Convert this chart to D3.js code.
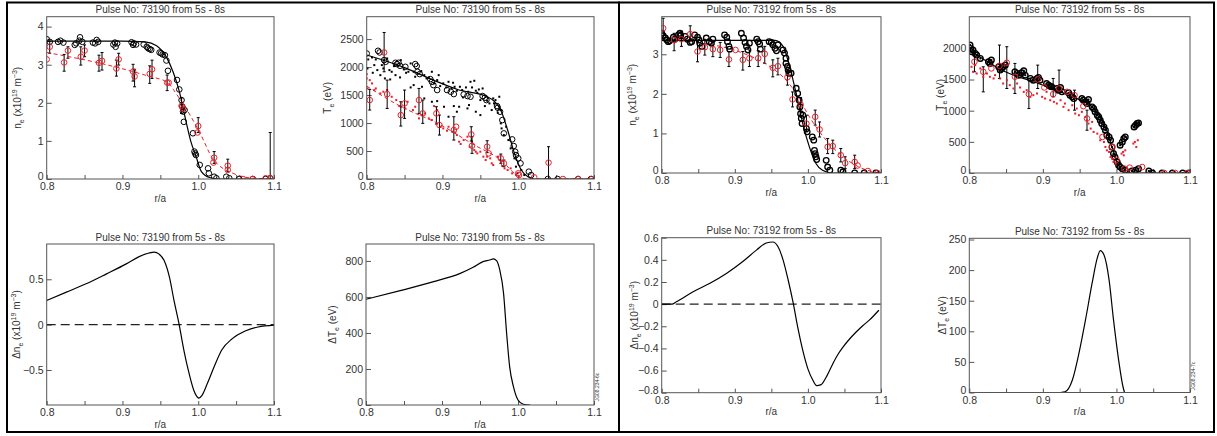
<!DOCTYPE html>
<html>
<head>
<meta charset="utf-8">
<script src="https://cdn.jsdelivr.net/npm/d3@7"></script>
<style>
  body { margin: 0; background: #fff; }
  svg text { font-family: "Liberation Sans", Arial, sans-serif; fill: #333; }
</style>
</head>
<body>
<div class="chart"></div>
<script>
// r/a axis is the same for every panel
const rTicks = [0.8, 0.9, 1.0, 1.1];
const rMinor = [0.85, 0.95, 1.05];

// ---- Pulse 73190, density ----
const ne90Black = [[0.800,3.67],[0.804,3.60],[0.815,3.60],[0.818,3.63],[0.822,3.58],[0.837,3.52],[0.839,3.56],[0.843,3.63],
  [0.844,3.72],[0.847,3.60],[0.861,3.58],[0.864,3.56],[0.866,3.65],[0.868,3.60],[0.888,3.53],[0.890,3.58],[0.891,3.47],
  [0.893,3.56],[0.912,3.59],[0.914,3.52],[0.915,3.56],[0.918,3.53],[0.928,3.53],[0.932,3.47],[0.934,3.43],[0.936,3.41],
  [0.938,3.39],[0.949,3.32],[0.951,3.30],[0.953,3.27],[0.956,3.25],[0.958,3.11],[0.960,2.84],[0.972,2.60],[0.975,2.35],
  [0.978,2.07],[0.979,1.90],[0.980,1.77],[0.981,1.50],[0.982,1.81],[0.993,1.20],[0.995,0.72],[0.996,0.67],[0.997,0.63],
  [1.002,0.37],[1.013,0.28],[1.014,0.15],[1.021,0.06],[1.024,0.02],[1.037,0.06],[1.041,0.02],[1.054,0],[1.072,0],
  [1.089,0],[1.095,0.02]];
const ne90Fit = [[0.8,3.62],[0.85,3.62],[0.9,3.62],[0.93,3.60],[0.945,3.50],[0.958,3.20],[0.967,2.80],[0.975,2.30],
  [0.984,1.50],[0.990,1.00],[0.997,0.60],[1.004,0.20],[1.015,0.04],[1.03,0],[1.1,0]];
// [r, value, low, high]
const ne90Red = [[0.800,3.14,3.14,3.14],[0.804,3.47,3.30,3.62],[0.823,3.06,2.83,3.27],[0.828,3.37,3.17,3.47],
  [0.845,3.21,2.99,3.47],[0.850,3.37,3.21,3.52],[0.869,3.05,2.83,3.25],[0.873,3.10,2.86,3.32],[0.892,2.90,2.70,3.12],
  [0.895,3.14,2.99,3.30],[0.914,2.82,2.57,3.01],[0.916,2.69,2.42,2.88],[0.936,2.76,2.51,2.97],[0.939,2.88,2.64,3.12],
  [0.959,2.53,2.32,2.73],[0.961,2.53,2.53,2.53],[0.978,1.92,1.72,2.13],[0.980,1.85,1.85,1.85],[1.000,1.39,1.22,1.61],
  [0.999,1.22,1.22,1.22],[1.021,0.56,0.41,0.72],[1.020,0.43,0.43,0.43],[1.039,0.35,0.19,0.52],[1.039,0.24,0.24,0.24],
  [1.059,0,0,0],[1.072,0,0,0],[1.089,0.02,0.02,0.02],[1.095,0.02,0,1.22]];
const ne90RedFit = [[0.8,3.32],[0.87,3.04],[0.936,2.69],[0.958,2.55],[0.975,2.12],[1.002,1.22],[1.019,0.54],
  [1.046,0.15],[1.068,0.03],[1.1,0]];
const ne90Ticks = [0, 1, 2, 3, 4];

// ---- Pulse 73190, temperature ----
const te90Black = [[0.800,2243],[0.815,2291],[0.817,2261],[0.823,2124],[0.825,2094],[0.838,2077],[0.840,2053],
  [0.842,2077],[0.844,2023],[0.851,2005],[0.864,2053],[0.866,2017],[0.867,1916],[0.870,1874],[0.884,1785],[0.886,1737],
  [0.888,1678],[0.893,1589],[0.906,1589],[0.911,1559],[0.915,1517],[0.928,1511],[0.933,1482],[0.937,1470],[0.953,1482],
  [0.956,1452],[0.958,1410],[0.972,1303],[0.973,1273],[0.976,1202],[0.979,1053],[0.981,815],[0.992,708],[0.994,589],
  [0.996,488],[0.997,428],[1.000,369],[1.003,280],[1.014,131],[1.017,71],[1.039,0],[1.052,0],[1.079,0],[1.096,0]];
const te90Fit = [[0.8,2215],[0.85,1990],[0.888,1767],[0.92,1600],[0.959,1470],[0.969,1380],[0.977,1230],[0.986,875],
  [0.995,458],[1.004,160],[1.013,40],[1.021,0],[1.1,0]];
const te90Dots = [[0.802,2136],[0.807,2172],[0.810,2035],[0.814,1946],[0.820,2035],[0.822,1975],[0.827,2154],
  [0.830,1946],[0.833,1916],[0.836,2017],[0.845,2124],[0.849,1958],[0.852,1898],[0.855,1916],[0.858,2065],[0.862,1916],
  [0.864,1827],[0.872,1928],[0.876,1856],[0.879,1797],[0.882,1815],[0.886,1916],[0.889,1708],[0.893,1767],[0.895,1856],
  [0.897,1660],[0.901,1708],[0.905,1636],[0.908,1737],[0.912,1618],[0.914,1720],[0.916,1648],[0.919,1577],[0.923,1648],
  [0.926,1589],[0.927,1458],[0.931,1636],[0.934,1559],[0.937,1737],[0.939,1636],[0.942,1755],[0.944,1577],[0.946,1541],
  [0.948,1600],[0.950,1410],[0.953,1618],[0.956,1303],[0.959,1398],[0.962,1351],[0.965,1232],[0.967,1440],[0.968,1351],
  [0.970,1410],[0.973,1184],[0.975,1470],[0.977,1232],[0.950,1142],[0.944,1202],[0.935,1321],[0.933,1261],[0.922,1291],
  [0.919,1202],[0.915,1303],[0.908,1113],[0.902,1291],[0.893,1392],[0.886,1380],[0.876,1440],[0.873,1648],[0.862,1678],
  [0.858,1636],[0.844,1815],[0.838,1856],[0.831,1779],[0.824,1797],[0.818,1856],[0.812,2136],[0.808,1898],[0.801,1975],
  [0.977,994],[0.978,904],[0.981,785],[0.984,934],[0.987,696],[0.990,547],[0.995,369],[0.997,220],[0.999,101],
  [1.004,161],[1.008,71]];
const te90Red = [[0.804,1410,1232,1601],[0.823,2261,1916,2618],[0.827,1517,1261,1767],[0.845,1142,946,1380],
  [0.850,1351,1083,1589],[0.869,1410,1172,1618],[0.874,1172,994,1410],[0.892,1172,982,1291],[0.896,964,785,1142],
  [0.915,875,696,1113],[0.918,934,934,934],[0.938,797,678,934],[0.939,595,458,756],[0.959,577,470,684],[0.961,458,458,458],
  [0.977,369,280,446],[0.981,280,220,339],[1.000,101,101,101],[1.001,71,71,71],[1.021,30,30,30],[1.040,292,0,577],
  [1.059,0,0,0],[1.079,0,0,0],[1.097,0,0,0]];
const te90RedDots = [[0.800,1874],[0.800,1797],[0.801,1618],[0.804,1767],[0.807,1708],[0.810,1589],[0.812,1618],
  [0.818,1529],[0.822,1559],[0.827,1589],[0.833,1470],[0.839,1410],[0.843,1303],[0.846,1291],[0.851,1261],[0.854,1380],
  [0.861,1232],[0.864,1291],[0.869,1083],[0.873,1142],[0.877,1172],[0.882,1083],[0.886,1053],[0.889,1303],[0.893,1232],
  [0.897,934],[0.901,904],[0.906,863],[0.908,934],[0.913,845],[0.917,827],[0.919,785],[0.922,666],[0.924,625],[0.928,696],
  [0.933,756],[0.936,577],[0.939,666],[0.942,518],[0.944,488],[0.946,458],[0.950,488],[0.954,399],[0.957,339],[0.959,399],
  [0.963,369],[0.965,280],[0.967,250],[0.973,399],[0.976,339],[0.979,232],[0.982,190],[0.986,161],[0.990,190],
  [0.992,101],[0.997,71]];
const te90RedFit = [[0.8,1660],[0.844,1303],[0.898,964],[0.942,607],[0.977,339],[0.999,60],[1.012,0],[1.1,0]];
const te90Ticks = [0, 500, 1000, 1500, 2000, 2500];

// ---- Pulse 73192, density ----
const ne92Black = [[0.800,3.53],[0.802,3.47],[0.805,3.41],[0.807,3.36],[0.809,3.32],[0.811,3.34],[0.816,3.43],
  [0.818,3.38],[0.823,3.49],[0.825,3.53],[0.826,3.47],[0.832,3.45],[0.835,3.38],[0.839,3.30],[0.841,3.32],[0.845,3.49],
  [0.849,3.43],[0.851,3.36],[0.852,3.28],[0.855,3.20],[0.861,3.41],[0.865,3.32],[0.868,3.28],[0.870,3.38],[0.886,3.49],
  [0.889,3.43],[0.890,3.32],[0.892,3.20],[0.893,3.13],[0.909,3.53],[0.912,3.41],[0.914,3.30],[0.916,3.20],[0.918,3.11],
  [0.920,3.28],[0.930,3.38],[0.932,3.32],[0.934,3.26],[0.935,3.13],[0.947,3.32],[0.950,3.30],[0.952,3.24],[0.955,3.15],
  [0.957,3.09],[0.959,3.24],[0.966,3.11],[0.968,3.03],[0.970,2.90],[0.970,2.77],[0.972,2.69],[0.973,2.60],[0.974,2.52],
  [0.977,2.52],[0.984,2.14],[0.986,2.01],[0.988,1.84],[0.989,1.67],[0.990,1.50],[0.991,1.38],[0.992,1.25],[0.993,1.46],
  [0.998,1.12],[0.999,1.04],[1.006,0.91],[1.008,0.83],[1.009,0.57],[1.010,0.49],[1.011,0.41],[1.012,0.34],[1.025,0.32],
  [1.027,0.15],[1.030,0.07],[1.045,0.07],[1.048,0.03],[1.064,0],[1.077,0],[1.093,0]];
const ne92Fit = [[0.8,3.35],[0.9,3.35],[0.955,3.35],[0.966,3.20],[0.975,2.69],[0.984,2.01],[0.993,1.25],[1.002,0.66],
  [1.011,0.24],[1.020,0.07],[1.034,0],[1.1,0]];
const ne92Red = [[0.802,3.66,3.41,3.91],[0.817,3.36,3.09,3.53],[0.827,3.38,3.20,3.58],[0.839,3.51,3.32,3.72],
  [0.849,3.07,2.81,3.32],[0.859,3.18,2.98,3.38],[0.870,3.13,2.94,3.32],[0.880,3.11,2.92,3.30],[0.892,2.87,2.69,3.07],
  [0.901,3.11,3.11,3.11],[0.911,2.86,2.60,3.07],[0.920,2.90,2.69,3.11],[0.932,2.90,2.69,3.09],[0.941,3.01,2.77,3.20],
  [0.952,2.66,2.43,2.86],[0.959,2.70,2.48,2.90],[0.972,2.42,2.22,2.60],[0.979,1.86,1.67,2.05],[0.990,1.73,1.55,1.91],
  [0.998,1.25,1.04,1.46],[1.010,1.42,1.21,1.59],[1.016,1.10,0.91,1.29],[1.027,0.66,0.49,0.87],[1.034,0.68,0.49,0.83],
  [1.045,0.45,0.28,0.62],[1.051,0.25,0.11,0.41],[1.064,0.28,0.11,0.45],[1.068,0.19,0.19,0.19],[1.082,0.05,0.05,0.05],
  [1.095,0,0,0]];
const ne92RedFit = [[0.8,3.43],[0.843,3.32],[0.911,3.03],[0.948,2.69],[0.970,2.35],[0.984,2.01],[1.002,1.42],
  [1.025,0.83],[1.048,0.41],[1.070,0.15],[1.098,0]];
const ne92Ticks = [0, 1, 2, 3];

// ---- Pulse 73192, temperature ----
const te92Black = [[0.801,2053],[0.802,1999],[0.803,1946],[0.805,1972],[0.808,1919],[0.810,1892],[0.815,1838],
  [0.826,1785],[0.828,1758],[0.830,1812],[0.840,1704],[0.842,1651],[0.844,1678],[0.846,1704],[0.849,1731],[0.862,1624],
  [0.865,1597],[0.867,1570],[0.871,1608],[0.874,1640],[0.876,1570],[0.883,1517],[0.887,1490],[0.892,1517],[0.894,1533],
  [0.896,1490],[0.905,1436],[0.908,1410],[0.910,1394],[0.912,1383],[0.919,1356],[0.921,1329],[0.924,1372],[0.926,1302],
  [0.935,1286],[0.937,1249],[0.940,1222],[0.942,1195],[0.953,1195],[0.955,1168],[0.958,1142],[0.960,1115],[0.962,1179],
  [0.967,1061],[0.969,1034],[0.971,981],[0.974,927],[0.976,900],[0.978,847],[0.980,793],[0.983,740],[0.985,686],
  [0.987,606],[0.990,579],[0.992,525],[0.994,418],[0.996,311],[0.998,257],[1.001,177],[1.003,123],[1.005,96],[1.008,70],
  [1.012,43],[1.021,32],[1.026,43],[1.030,70],[1.044,32],[1.049,0],[1.062,0],[1.076,0],[1.090,0],[1.099,0],
  [1.005,445],[1.008,498],[1.010,552],[1.012,579],[1.024,740],[1.026,766],[1.028,793],[1.030,804]];
const te92Fit = [[0.8,1973],[0.849,1624],[0.894,1437],[0.94,1222],[0.967,1061],[0.985,740],[0.994,418],[1.003,123],
  [1.012,16],[1.021,0],[1.1,0]];
const te92Red = [[0.807,1785,1624,1919],[0.819,1624,1302,1704],[0.830,1678,1678,1678],[0.841,1720,1517,2053],
  [0.851,1769,1356,2026],[0.862,1544,1276,1758],[0.881,1265,1034,1517],[0.893,1501,1356,1731],[0.902,1372,1372,1372],
  [0.914,1265,1222,1517],[0.922,1356,1302,1651],[0.933,1302,1302,1302],[0.943,1249,1008,1329],[0.955,1072,1072,1072],
  [0.960,874,686,1008],[0.981,579,579,579],[0.994,418,418,418],[1.000,214,214,214],[1.011,70,70,70],[1.018,86,86,86],
  [1.035,96,96,96],[1.065,0,0,0],[1.080,0,0,0],[1.096,0,0,0]];
const te92RedDots = [[0.803,1704],[0.805,1624],[0.808,1731],[0.810,1597],[0.815,1678],[0.819,1544],[0.824,1597],
  [0.828,1544],[0.833,1517],[0.835,1570],[0.842,1517],[0.846,1436],[0.851,1490],[0.855,1410],[0.860,1356],[0.865,1436],
  [0.869,1372],[0.874,1302],[0.878,1329],[0.883,1222],[0.887,1249],[0.892,1276],[0.899,1222],[0.903,1195],[0.905,1302],
  [0.910,1168],[0.915,1142],[0.919,1115],[0.924,1168],[0.928,1061],[0.930,1115],[0.935,1008],[0.940,1088],[0.944,954],
  [0.946,1034],[0.949,927],[0.953,981],[0.958,900],[0.960,847],[0.962,793],[0.965,713],[0.967,820],[0.969,659],
  [0.974,632],[0.978,525],[0.983,498],[0.985,418],[0.987,364],[0.990,338],[0.992,257],[0.994,230],[0.996,177],
  [0.999,150],[1.007,311],[1.009,338],[1.010,284],[1.012,364],[1.023,472],[1.025,498],[1.027,418],[1.029,525]];
const te92Ticks = [0, 500, 1000, 1500, 2000];

// ---- differences ----
const dne90 = [[0.8,0.267],[0.826,0.359],[0.852,0.45],[0.879,0.56],[0.905,0.67],[0.922,0.75],[0.935,0.79],
  [0.942,0.80],[0.948,0.78],[0.955,0.707],[0.962,0.524],[0.968,0.267],[0.975,-0.007],[0.981,-0.28],[0.988,-0.54],
  [0.994,-0.72],[0.999,-0.80],[1.001,-0.81],[1.005,-0.78],[1.012,-0.65],[1.021,-0.465],[1.031,-0.28],[1.045,-0.154],
  [1.062,-0.07],[1.079,-0.026],[1.1,-0.005]];
const dne90Ticks = [-0.5, 0, 0.5];
const dte90 = [[0.8,587],[0.845,635],[0.889,685],[0.924,731],[0.941,765],[0.954,796],[0.963,805],[0.9675,811],
  [0.972,800],[0.976,750],[0.981,620],[0.985,400],[0.989,213],[0.994,102],[1.0,28],[1.007,4],[1.016,0]];
const dte90Ticks = [0, 200, 400, 600, 800];
const dne92 = [[0.8,0],[0.814,0],[0.82,0.021],[0.843,0.112],[0.866,0.188],[0.889,0.279],[0.911,0.385],[0.93,0.49],
  [0.943,0.552],[0.952,0.561],[0.959,0.52],[0.966,0.4],[0.973,0.218],[0.98,0.006],[0.986,-0.206],[0.993,-0.418],
  [1.0,-0.585],[1.007,-0.69],[1.012,-0.736],[1.018,-0.727],[1.025,-0.66],[1.034,-0.54],[1.041,-0.455],[1.048,-0.388],
  [1.057,-0.315],[1.066,-0.252],[1.075,-0.195],[1.084,-0.145],[1.097,-0.055]];
const dne92Ticks = [-0.8, -0.6, -0.4, -0.2, 0, 0.2, 0.4, 0.6];
const dte92 = [[0.924,0],[0.93,1],[0.94,20],[0.949,64],[0.958,119],[0.967,179],[0.974,220],[0.978,232],[0.983,225],
  [0.99,184],[0.996,119],[1.003,53],[1.009,9],[1.011,0]];
const dte92Ticks = [0, 50, 100, 150, 200, 250];

const RED = "#e8202a";
const width = 1217, height = 436;

const svg = d3.select("div.chart").append("svg")
  .attr("width", width)
  .attr("height", height);

// outer frames of the two halves
svg.append("rect").attr("x", 7).attr("y", 2.5).attr("width", 612).attr("height", 429.5)
  .attr("fill", "none").attr("stroke", "#000").attr("stroke-width", 2);
svg.append("rect").attr("x", 619).attr("y", 2.5).attr("width", 595).attr("height", 429.5)
  .attr("fill", "none").attr("stroke", "#000").attr("stroke-width", 2);

const fmt = d => d === 0 ? "0" : String(d).replace("-", "\u2212");
let clipId = 0;

function makePanel(p) {
  const x = d3.scaleLinear().domain([0.8, 1.1]).range([p.left, p.right]);
  const y = d3.scaleLinear().domain(p.yDomain).range([p.bottom, p.top]);
  const g = svg.append("g");

  g.append("text")
    .attr("x", (p.left + p.right) / 2).attr("y", p.top - 3.5)
    .attr("text-anchor", "middle").attr("font-size", 10)
    .text(p.title);

  g.append("g").attr("transform", `translate(0,${p.bottom})`)
    .call(d3.axisBottom(x).tickValues(rTicks).tickFormat(d3.format(".1f")).tickSize(-4).tickPadding(4))
    .call(a => a.select(".domain").remove())
    .call(a => a.selectAll("text").attr("font-size", 10.5).attr("fill", "#333"));
  g.append("g").attr("transform", `translate(0,${p.bottom})`)
    .call(d3.axisBottom(x).tickValues(rMinor).tickFormat("").tickSize(-4))
    .call(a => a.select(".domain").remove());
  g.append("g").attr("transform", `translate(${p.left},0)`)
    .call(d3.axisLeft(y).tickValues(p.yTicks).tickFormat(fmt).tickSize(-5).tickPadding(3))
    .call(a => a.select(".domain").remove())
    .call(a => a.selectAll("text").attr("font-size", 10.5).attr("fill", "#333"))
    // the lowest label sits a little above the corner, clear of "0.8"
    .call(a => a.selectAll(".tick").filter(d => d === p.yDomain[0]).select("text").attr("dy", "0.05em"));
  g.selectAll(".tick line").attr("stroke", "#555");

  g.append("text")
    .attr("x", (p.left + p.right) / 2).attr("y", p.bottom + 22.5)
    .attr("text-anchor", "middle").attr("font-size", 10)
    .text("r/a");

  // y label with sub/superscripts
  const yl = g.append("text")
    .attr("transform", `translate(${p.ylabelX},${(p.top + p.bottom) / 2}) rotate(-90)`)
    .attr("text-anchor", "middle").attr("font-size", 10);
  p.ylabel.forEach(part => {
    const t = yl.append("tspan").text(part[0]);
    if (part[1] === "sub") t.attr("font-size", 7).attr("baseline-shift", "-3");
    if (part[1] === "sup") t.attr("font-size", 7).attr("baseline-shift", "4");
  });

  const id = "clip" + (clipId++);
  g.append("clipPath").attr("id", id).append("rect")
    .attr("x", p.left).attr("y", p.top).attr("width", p.right - p.left).attr("height", p.bottom - p.top);
  const plot = g.append("g").attr("clip-path", `url(#${id})`);

  g.append("rect")
    .attr("x", p.left).attr("y", p.top).attr("width", p.right - p.left).attr("height", p.bottom - p.top)
    .attr("fill", "none").attr("stroke", "#555").attr("stroke-width", 1);

  return { x, y, plot };
}

function line(panel, data, color, dash, w) {
  panel.plot.append("path")
    .datum(data)
    .attr("fill", "none")
    .attr("stroke", color)
    .attr("stroke-width", w || 1.2)
    .attr("stroke-dasharray", dash || null)
    .attr("d", d3.line().x(d => panel.x(d[0])).y(d => panel.y(d[1])).curve(d3.curveMonotoneX));
}

function circles(panel, data, color, w) {
  panel.plot.append("g").selectAll("circle")
    .data(data)
    .enter()
    .append("circle")
    .attr("cx", d => panel.x(d[0]))
    .attr("cy", d => panel.y(d[1]))
    .attr("r", 2.8)
    .attr("fill", "none")
    .attr("stroke", color)
    .attr("stroke-width", w || 1);
}

function dots(panel, data, color) {
  panel.plot.append("g").selectAll("rect")
    .data(data)
    .enter()
    .append("rect")
    .attr("x", d => panel.x(d[0]) - 1)
    .attr("y", d => panel.y(d[1]) - 1)
    .attr("width", 2)
    .attr("height", 2)
    .attr("fill", color);
}

function errorBars(panel, data) {
  const bars = data.filter(d => d[2] !== d[3]);
  const g = panel.plot.append("g").attr("stroke", "#000").attr("stroke-width", 1);
  g.selectAll("line.v").data(bars).enter().append("line")
    .attr("x1", d => panel.x(d[0])).attr("x2", d => panel.x(d[0]))
    .attr("y1", d => panel.y(d[2])).attr("y2", d => panel.y(d[3]));
  g.selectAll("line.lo").data(bars).enter().append("line")
    .attr("x1", d => panel.x(d[0]) - 1.5).attr("x2", d => panel.x(d[0]) + 1.5)
    .attr("y1", d => panel.y(d[2])).attr("y2", d => panel.y(d[2]));
  g.selectAll("line.hi").data(bars).enter().append("line")
    .attr("x1", d => panel.x(d[0]) - 1.5).attr("x2", d => panel.x(d[0]) + 1.5)
    .attr("y1", d => panel.y(d[3])).attr("y2", d => panel.y(d[3]));
}

function zeroLine(panel) {
  panel.plot.append("line")
    .attr("x1", panel.x(0.8)).attr("x2", panel.x(1.1))
    .attr("y1", panel.y(0)).attr("y2", panel.y(0))
    .attr("stroke", "#222").attr("stroke-width", 1.2).attr("stroke-dasharray", "9,5");
}

const neLabel = [["n"], ["e", "sub"], [" (x10"], ["19", "sup"], [" m"], ["\u22123", "sup"], [")"]];
const teLabel = [["T"], ["e", "sub"], [" (eV)"]];
const dneLabel = [["\u0394n"], ["e", "sub"], [" (x10"], ["19", "sup"], [" m"], ["\u22123", "sup"], [")"]];
const dteLabel = [["\u0394T"], ["e", "sub"], [" (eV)"]];
const t90 = "Pulse No: 73190 from 5s - 8s";
const t92 = "Pulse No: 73192 from 5s - 8s";

// top row
const p1 = makePanel({ left: 46.7, right: 274, top: 16.7, bottom: 179, yDomain: [0, 4.26], yTicks: ne90Ticks,
  title: t90, ylabel: neLabel, ylabelX: 21 });
errorBars(p1, ne90Red);
line(p1, ne90RedFit, RED, "4,3", 1);
circles(p1, ne90Black, "#000");
line(p1, ne90Fit, "#000");
circles(p1, ne90Red, RED);

const p2 = makePanel({ left: 366.7, right: 594, top: 16.7, bottom: 179, yDomain: [0, 2900], yTicks: te90Ticks,
  title: t90, ylabel: teLabel, ylabelX: 331 });
dots(p2, te90Dots, "#000");
dots(p2, te90RedDots, RED);
errorBars(p2, te90Red);
line(p2, te90RedFit, RED, "4,3", 1);
circles(p2, te90Black, "#000");
line(p2, te90Fit, "#000");
circles(p2, te90Red, RED);

const p3 = makePanel({ left: 661.7, right: 881, top: 16.7, bottom: 173, yDomain: [0, 3.95], yTicks: ne92Ticks,
  title: t92, ylabel: neLabel, ylabelX: 636 });
errorBars(p3, ne92Red);
line(p3, ne92RedFit, RED, "4,3", 1);
circles(p3, ne92Black, "#000", 1.3);
line(p3, ne92Fit, "#000");
circles(p3, ne92Red, RED);

const p4 = makePanel({ left: 969.3, right: 1190, top: 16.7, bottom: 173, yDomain: [0, 2508], yTicks: te92Ticks,
  title: t92, ylabel: teLabel, ylabelX: 944 });
errorBars(p4, te92Red);
circles(p4, te92Black, "#000", 1.4);
dots(p4, te92Black, "#000");
line(p4, te92Fit, "#000");
dots(p4, te92RedDots, RED);
circles(p4, te92Red, RED);

// bottom row
const p5 = makePanel({ left: 46.7, right: 274, top: 244, bottom: 405, yDomain: [-0.886, 0.889], yTicks: dne90Ticks,
  title: t90, ylabel: dneLabel, ylabelX: 20 });
zeroLine(p5);
line(p5, dne90, "#000");

const p6 = makePanel({ left: 366, right: 594, top: 244, bottom: 405, yDomain: [0, 894], yTicks: dte90Ticks,
  title: t90, ylabel: dteLabel, ylabelX: 336 });
line(p6, dte90, "#000");

const p7 = makePanel({ left: 661.7, right: 881, top: 237.7, bottom: 392.7, yDomain: [-0.8, 0.6], yTicks: dne92Ticks,
  title: t92, ylabel: dneLabel, ylabelX: 638 });
zeroLine(p7);
line(p7, dne92, "#000");

const p8 = makePanel({ left: 969.3, right: 1190, top: 238.3, bottom: 392.5, yDomain: [0, 252], yTicks: dte92Ticks,
  title: t92, ylabel: dteLabel, ylabelX: 946 });
line(p8, dte92, "#000");

// figure codes
svg.append("text").attr("transform", "translate(599,387) rotate(-90)")
  .attr("text-anchor", "middle").attr("font-size", 5).text("JG08.234-6c");
svg.append("text").attr("transform", "translate(1195,376) rotate(-90)")
  .attr("text-anchor", "middle").attr("font-size", 5).text("JG08.234-7c");
</script>
</body>
</html>
